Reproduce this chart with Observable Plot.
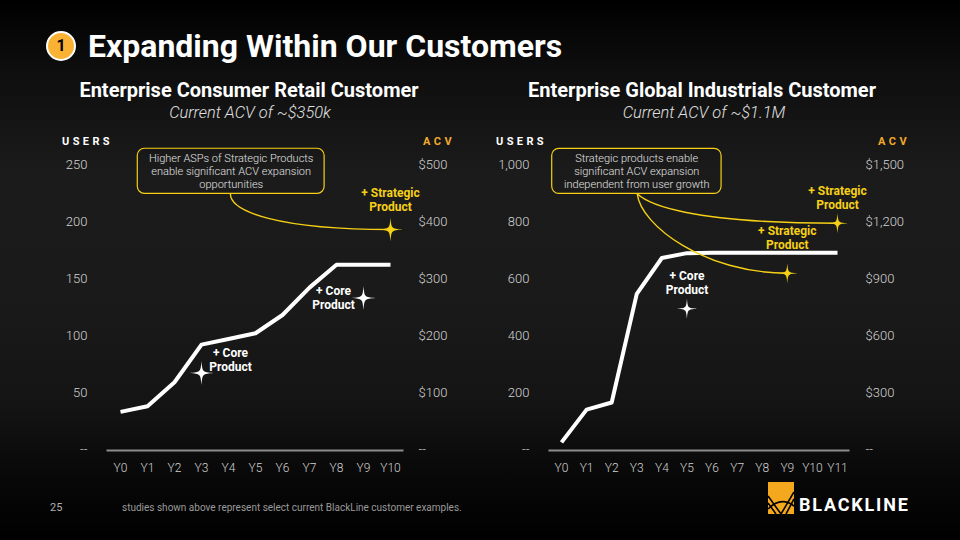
<!DOCTYPE html>
<html>
<head>
<meta charset="utf-8">
<script src="https://cdn.jsdelivr.net/npm/d3@7"></script>
<script src="https://cdn.jsdelivr.net/npm/@observablehq/plot@0.6"></script>
<style>
  html, body { margin: 0; padding: 0; }
  body {
    width: 960px; height: 540px; overflow: hidden; position: relative;
    font-family: Roboto, "Open Sans", sans-serif; color: #fff;
    background: linear-gradient(to bottom, #000 0%, #0d0d0d 12%, #1b1b1b 32%, #1a1a1a 55%, #141414 75%, #080808 88%, #000 100%);
  }
  .abs { position: absolute; white-space: nowrap; }
  #badge { left: 46px; top: 31px; width: 30px; height: 30px; box-sizing: border-box; border-radius: 50%;
    background: #f9b233; border: 2px solid #fff; color: #000; font-weight: 700; font-size: 16px;
    text-align: center; line-height: 26px; }
  #title { left: 88px; top: 27px; font-size: 32px; font-weight: 700; line-height: 38px; }
  .sub { font-size: 20px; font-weight: 700; line-height: 22px; transform: translateX(-50%); }
  .acvnote { font-size: 16.4px; font-weight: 300; font-style: italic; color: #e0e0e0; line-height: 18px; transform: translateX(-50%); }
  .hdr { font-size: 11px; font-weight: 700; letter-spacing: 3.4px; line-height: 14px; }
  .chart { position: absolute; }
  #page { left: 50px; top: 501px; font-size: 11px; color: #b0b0b0; line-height: 14px; }
  #note { left: 122px; top: 502px; font-size: 10px; color: #9a9a9a; line-height: 12px; }
  #logoText { left: 799px; top: 494px; font-size: 18px; font-weight: 700; line-height: 22px; letter-spacing: 1.8px; }
</style>
</head>
<body>
<div id="badge" class="abs">1</div>
<div id="title" class="abs">Expanding Within Our Customers</div>

<div class="abs sub" style="left:249px;top:79px;">Enterprise Consumer Retail Customer</div>
<div class="abs acvnote" style="left:250px;top:104px;">Current ACV of ~$350k</div>
<div class="abs sub" style="left:702px;top:79px;">Enterprise Global Industrials Customer</div>
<div class="abs acvnote" style="left:704px;top:104px;">Current ACV of ~$1.1M</div>

<div class="abs hdr" style="left:62px;top:135px;">USERS</div>
<div class="abs hdr" style="right:505px;top:135px;color:#f2a92b;">ACV</div>
<div class="abs hdr" style="left:496px;top:135px;">USERS</div>
<div class="abs hdr" style="right:50px;top:135px;color:#f2a92b;">ACV</div>

<div id="left" class="chart" style="left:40px;top:130px;"></div>
<div id="right" class="chart" style="left:480px;top:130px;"></div>

<div id="page" class="abs">25</div>
<div id="note" class="abs">studies shown above represent select current BlackLine customer examples.</div>
<svg class="abs" style="left:768px;top:482px;" width="26" height="32" viewBox="0 0 26 32">
  <rect width="26" height="32" fill="#f4a81d"/>
  <g stroke="#000" stroke-width="1.6" fill="none">
    <path d="M0 14 L13 32"/>
    <path d="M0 21 L8 32"/>
    <path d="M26 10 L13 32"/>
    <path d="M26 17 L18 32"/>
    <path d="M0 27 Q13 14 26 24"/>
  </g>
</svg>
<div id="logoText" class="abs">BLACKLINE</div>

<script>
// ---------- data ----------
const leftYears = ["Y0", "Y1", "Y2", "Y3", "Y4", "Y5", "Y6", "Y7", "Y8", "Y9", "Y10"];
const leftUsers = [33, 38, 59, 92, 97, 102, 118, 142, 162, 162, 162];
const leftUserTicks = [0, 50, 100, 150, 200, 250];
const leftAcvTicks = [0, 100, 200, 300, 400, 500];
const leftCoreYear = [3, 9];
const leftCoreUsers = [67, 133];
const leftStrategicYear = [10];
const leftStrategicAcv = [386];
const leftCallout = ["Higher ASPs of Strategic Products", "enable significant ACV expansion", "opportunities"];

const rightYears = ["Y0", "Y1", "Y2", "Y3", "Y4", "Y5", "Y6", "Y7", "Y8", "Y9", "Y10", "Y11"];
const rightUsers = [25, 140, 165, 546, 672, 689, 690, 690, 690, 690, 690, 690];
const rightUserTicks = [0, 200, 400, 600, 800, 1000];
const rightAcvTicks = [0, 300, 600, 900, 1200, 1500];
const rightCoreYear = [5];
const rightCoreUsers = [494];
const rightStrategicYear = [9, 11];
const rightStrategicAcv = [928, 1191];
const rightCallout = ["Strategic products enable", "significant ACV expansion", "independent from user growth"];

// ---------- helpers ----------
const YELLOW = "#f5d016";
const sparkle = {
  draw(ctx, size) {
    const r = Math.sqrt(size / Math.PI), k = 0.08 * r;
    ctx.moveTo(0, -r);
    ctx.bezierCurveTo(k, -k, k, -k, r, 0);
    ctx.bezierCurveTo(k, k, k, k, 0, r);
    ctx.bezierCurveTo(-k, k, -k, k, -r, 0);
    ctx.bezierCurveTo(-k, -k, -k, -k, 0, -r);
    ctx.closePath();
  }
};
function hookCurve(p1x, p1y, p2x) {
  return (context) => {
    let pts = [];
    return {
      areaStart() {}, areaEnd() {},
      lineStart() { pts = []; },
      point(x, y) { pts.push([+x, +y]); },
      lineEnd() {
        const a = pts[0], b = pts[pts.length - 1];
        const dx = b[0] - a[0], dy = b[1] - a[1];
        context.moveTo(a[0], a[1]);
        context.bezierCurveTo(a[0] + p1x * dx, a[1] + p1y * dy, a[0] + p2x * dx, b[1], b[0], b[1]);
      }
    };
  };
}
const fmt = d3.format(",");

function makeChart(cfg) {
  const n = cfg.years.length;
  const ratio = cfg.acvTicks[cfg.acvTicks.length - 1] / cfg.userTicks[cfg.userTicks.length - 1];
  const marks = [
    Plot.ruleY([0], {x1: -0.5, x2: n - 0.5, stroke: "#8c8c8c", strokeWidth: 2, dy: 1}),
    Plot.axisX(d3.range(n), {tickFormat: (i) => cfg.years[i], tickSize: 0, tickPadding: 14, fontSize: 12, fontWeight: 300, label: null}),
    Plot.axisY(cfg.userTicks, {anchor: "left", tickSize: 0, tickPadding: cfg.padL, fontSize: 13, fontWeight: 300, label: null,
      tickFormat: (d) => d === 0 ? "--" : fmt(d)}),
    Plot.axisY(cfg.acvTicks.map((v) => v / ratio), {anchor: "right", tickSize: 0, tickPadding: cfg.padR, fontSize: 13, fontWeight: 300, label: null,
      tickFormat: (u) => { const v = Math.round(u * ratio); return v === 0 ? "--" : "$" + fmt(v); }}),
    Plot.rect([cfg.box], {x1: "x1", x2: "x2", y1: "y1", y2: "y2", rx: 7, fill: "none", stroke: YELLOW, strokeWidth: 1.2}),
    Plot.text([cfg.callout.join("\n")], {text: (d) => d, x: cfg.box.tx, y: cfg.box.ty, fontSize: 11, fontWeight: 300, fill: "#e2e2e2", lineHeight: 1.18}),
    Plot.line(cfg.users, {x: (d, i) => i, y: (d) => d, stroke: "#fff", strokeWidth: 4, strokeLinejoin: "round", strokeLinecap: "butt"})
  ];
  cfg.strategicYear.forEach((yr, i) => {
    const c = cfg.hooks[i];
    marks.push(Plot.line([{x: cfg.box.ax, y: cfg.box.y1}, {x: yr, y: cfg.strategicAcv[i] / ratio}],
      {x: "x", y: "y", curve: hookCurve(c[0], c[1], c[2]), stroke: YELLOW, strokeWidth: 1.4}));
  });
  marks.push(Plot.dot(cfg.coreYear.map((x, i) => ({x, y: cfg.coreUsers[i]})),
    {x: "x", y: "y", symbol: sparkle, r: cfg.rCore, fill: "#fff", stroke: "none"}));
  marks.push(Plot.dot(cfg.strategicYear.map((x, i) => ({x, y: cfg.strategicAcv[i] / ratio})),
    {x: "x", y: "y", symbol: sparkle, r: cfg.rStrat, fill: YELLOW, stroke: "none"}));
  cfg.coreYear.forEach((x, i) => {
    marks.push(Plot.text([{x, y: cfg.coreUsers[i]}], {x: "x", y: "y", text: () => "+ Core\nProduct",
      dx: cfg.coreOff[i][0], dy: cfg.coreOff[i][1], fill: "#fff", fontSize: 12, fontWeight: 700, lineHeight: 1.17}));
  });
  cfg.strategicYear.forEach((x, i) => {
    marks.push(Plot.text([{x, y: cfg.strategicAcv[i] / ratio}], {x: "x", y: "y", text: () => "+ Strategic\nProduct",
      dx: cfg.stratOff[i][0], dy: cfg.stratOff[i][1], fill: YELLOW, fontSize: 12, fontWeight: 700, lineHeight: 1.17}));
  });
  return Plot.plot({
    width: cfg.width, height: 350,
    marginLeft: cfg.ml, marginRight: cfg.mr, marginTop: 34, marginBottom: 31,
    style: {background: "transparent", color: "#d2d2d2", fontFamily: "Roboto, sans-serif", overflow: "visible"},
    x: {type: "linear", domain: [0, n - 1]},
    y: {type: "linear", domain: [0, cfg.userTicks[cfg.userTicks.length - 1]]},
    marks
  });
}

document.getElementById("left").append(makeChart({
  years: leftYears, users: leftUsers, userTicks: leftUserTicks, acvTicks: leftAcvTicks,
  coreYear: leftCoreYear, coreUsers: leftCoreUsers, strategicYear: leftStrategicYear, strategicAcv: leftStrategicAcv,
  callout: leftCallout,
  box: {x1: 0.64, x2: 7.56, y1: 224.3, y2: 263.8, tx: 4.1, ty: 244.5, ax: 4.07},
  hooks: [[0, 0.5, 0.3]],
  coreOff: [[29, -14], [-30, 0]], stratOff: [[0, -30]],
  rCore: 12, rStrat: 12,
  width: 430, ml: 80, mr: 80, padL: 33, padR: 28
}));

document.getElementById("right").append(makeChart({
  years: rightYears, users: rightUsers, userTicks: rightUserTicks, acvTicks: rightAcvTicks,
  coreYear: rightCoreYear, coreUsers: rightCoreUsers, strategicYear: rightStrategicYear, strategicAcv: rightStrategicAcv,
  callout: rightCallout,
  box: {x1: -0.37, x2: 6.38, y1: 897, y2: 1055, tx: 3.0, ty: 979, ax: 3.02},
  hooks: [[0.024, 0.4, 0.45], [0.052, 0.34, 0.25]],
  coreOff: [[0, -26]], stratOff: [[0, -36], [0, -26]],
  rCore: 10, rStrat: 10,
  width: 440, ml: 81, mr: 83, padL: 32, padR: 28
}));
</script>
</body>
</html>
